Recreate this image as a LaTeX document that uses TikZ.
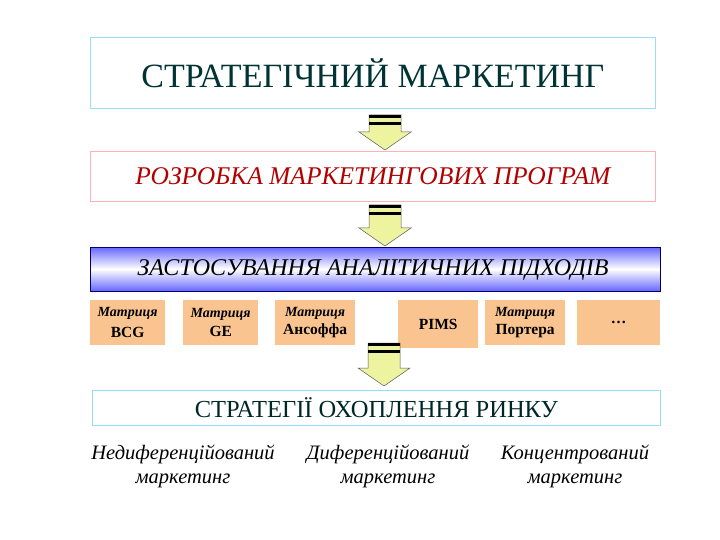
\documentclass[tikz,border=0pt]{standalone}
\usepackage{fontspec}
\setmainfont{Liberation Serif}
\begin{document}
\begin{tikzpicture}[x=1pt,y=-1pt,
  frame/.style={draw=#1,line width=0.8pt},
  mat/.style={fill=orange!40!white!90!brown,draw=none,align=center,font=\fontsize{15.5}{15.5}\selectfont\bfseries,inner sep=0pt},
  bot/.style={align=center,font=\fontsize{20.5}{24}\selectfont\itshape}]
\useasboundingbox (0,0) rectangle (720,540);
\definecolor{arrowfill}{HTML}{EEF3A0}
\newcommand{\blockarrow}[3]{% x center, y top, y tip
  \fill[arrowfill,draw=gray!70!black,line width=0.5pt]
    (#1-16,#2) -- (#1+16,#2) -- (#1+16,#3-18) -- (#1+26,#3-18) -- (#1,#3) -- (#1-26,#3-18) -- (#1-16,#3-18) -- cycle;
  \fill[black] (#1-16,#2) rectangle (#1+16,#2+3);
  \fill[black] (#1-16,#2+7) rectangle (#1+16,#2+10);
}
\node[frame=cyan!40,minimum width=565,minimum height=71,anchor=north west] (b1) at (90,37) {};
\node[text=teal!40!black,font=\fontsize{34}{34}\selectfont] (t1) at (b1.center) {СТРАТЕГІЧНИЙ МАРКЕТИНГ};
\blockarrow{385}{115}{150}
\node[frame=red!30,minimum width=565,minimum height=50,anchor=north west] (b2) at (90,151) {};
\node[text=red!70!black,font=\fontsize{25.5}{25.5}\selectfont\itshape] (t2) at (b2.center) {РОЗРОБКА МАРКЕТИНГОВИХ ПРОГРАМ};
\blockarrow{385}{205}{246}
\shade[top color=blue!60,bottom color=blue!60,middle color=white,draw=blue!40!black] (90,247) rectangle (660,291);
\node[font=\fontsize{24}{24}\selectfont\itshape] (t3) at (373,270) {ЗАСТОСУВАННЯ АНАЛІТИЧНИХ ПІДХОДІВ};
\node[mat,minimum width=75,minimum height=45,anchor=north west] (m1) at (90,300) {{\fontsize{14}{14}\selectfont\itshape Матриця}\\[5pt] BCG};
\node[mat,minimum width=75,minimum height=45,anchor=north west] (m2) at (183,300) {{\fontsize{14}{14}\selectfont\itshape Матриця}\\[3pt] GE};
\node[mat,minimum width=80,minimum height=45,anchor=north west] (m3) at (275,300) {{\fontsize{14}{14}\selectfont\itshape Матриця}\\[3pt] Ансоффа};
\node[mat,minimum width=80,minimum height=48,anchor=north west] (m4) at (398,300) {PIMS};
\node[mat,minimum width=80,minimum height=45,anchor=north west] (m5) at (485,300) {{\fontsize{14}{14}\selectfont\itshape Матриця}\\[3pt] Портера};
\node[mat,minimum width=83,minimum height=45,anchor=north west,text depth=-4pt] (m6) at (577,300) {…};
\blockarrow{384}{343}{386}
\node[frame=cyan!40,minimum width=568,minimum height=35,anchor=north west] (b4) at (92,390) {};
\node[text=teal!30!black,font=\fontsize{24.5}{24.5}\selectfont] (t4) at (b4.center) {СТРАТЕГІЇ ОХОПЛЕННЯ РИНКУ};
\node[bot] (c1) at (183,466) {Недиференційований\\маркетинг};
\node[bot] (c2) at (388,466) {Диференційований\\маркетинг};
\node[bot] (c3) at (575,466) {Концентрований\\маркетинг};
\end{tikzpicture}
\end{document}
